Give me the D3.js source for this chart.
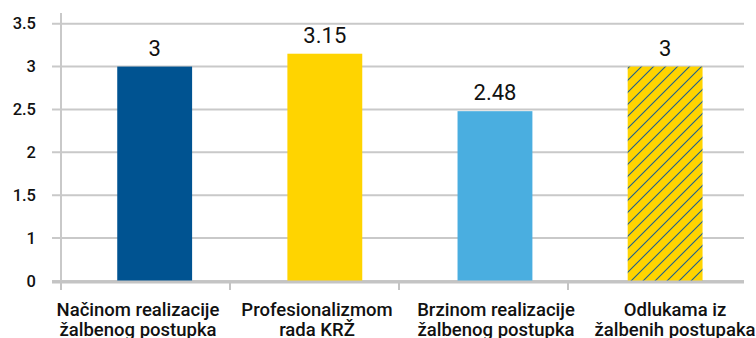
<!DOCTYPE html>
<html>
<head>
<meta charset="utf-8">
<script src="https://cdn.jsdelivr.net/npm/d3@7"></script>
<style>
  html, body { margin: 0; padding: 0; background: #fff; }
  svg { display: block; font-family: Roboto, "Noto Sans", sans-serif; }
</style>
</head>
<body>
<svg id="chart" width="756" height="338"></svg>
<script>
// ---- data ----
const categories = [
  ["Načinom realizacije", "žalbenog postupka"],
  ["Profesionalizmom", "rada KRŽ"],
  ["Brzinom realizacije", "žalbenog postupka"],
  ["Odlukama iz", "žalbenih postupaka"]
];
const categoryKeys = ["c1", "c2", "c3", "c4"];
const values = [3, 3.15, 2.48, 3];
const valueLabels = ["3", "3.15", "2.48", "3"];
const barColors = ["#005391", "#FFD400", "#4AAEE0", "hatch"];
const yTickValues = [0.5, 1, 1.5, 2, 2.5, 3, 3.5];
const yTickLabels = ["0", "1", "1.5", "2", "2.5", "3", "3.5"];

// ---- layout ----
const svg = d3.select("#chart");
const plotLeft = 60, plotRight = 744, baseY = 281, topY = 23.7;

const y = d3.scaleLinear().domain([0.5, 3.5]).range([baseY, topY]);
const x = d3.scaleBand().domain(categoryKeys).range([plotLeft, plotRight])
  .paddingInner(0.56).paddingOuter(0.29).align(0.58);
const xTicks = d3.scaleBand().domain(categoryKeys).range([plotLeft, 736]);
const xLabels = d3.scaleBand().domain(categoryKeys).range([48.5, 764.5]);

// hatch pattern
const defs = svg.append("defs");
const pat = defs.append("pattern").attr("id", "hatch")
  .attr("patternUnits", "userSpaceOnUse").attr("width", 12).attr("height", 12);
pat.append("rect").attr("width", 12).attr("height", 12).attr("fill", "#FFD400");
pat.append("path").attr("d", "M-3,3 L3,-3 M0,12 L12,0 M9,15 L15,9")
  .attr("stroke", "#1F5F8B").attr("stroke-width", 1.1);

// gridlines
svg.append("g").selectAll("line").data(yTickValues).join("line")
  .attr("x1", 52).attr("x2", plotRight)
  .attr("y1", d => y(d)).attr("y2", d => y(d))
  .attr("stroke", "#c9c9c9").attr("stroke-width", 2);

// y axis
const yAxis = d3.axisLeft(y).tickValues(yTickValues)
  .tickFormat((d, i) => yTickLabels[i]).tickSize(0).tickPadding(24);
const gy = svg.append("g").attr("transform", `translate(${plotLeft},0)`).call(yAxis);
gy.select(".domain").remove();
gy.selectAll("text").attr("font-size", 16.5).attr("font-weight", 500)
  .attr("fill", "#111").attr("font-family", "Roboto, sans-serif");
svg.append("line").attr("x1", 61).attr("x2", 61).attr("y1", 13).attr("y2", 290)
  .attr("stroke", "#c9c9c9").attr("stroke-width", 2);

// bars
svg.append("g").selectAll("rect").data(values).join("rect")
  .attr("x", (d, i) => x(categoryKeys[i]))
  .attr("width", x.bandwidth())
  .attr("y", d => y(d))
  .attr("height", d => baseY - y(d))
  .attr("fill", (d, i) => barColors[i] === "hatch" ? "url(#hatch)" : barColors[i]);

// x axis line and ticks
svg.append("line").attr("x1", 52).attr("x2", plotRight).attr("y1", baseY + 1).attr("y2", baseY + 1)
  .attr("stroke", "#c4c4c4").attr("stroke-width", 3);
svg.append("g").selectAll("line").data(categoryKeys).join("line")
  .attr("x1", d => xTicks(d) + 1).attr("x2", d => xTicks(d) + 1)
  .attr("y1", baseY).attr("y2", 290)
  .attr("stroke", "#c4c4c4").attr("stroke-width", 2);

// value labels
svg.append("g").selectAll("text").data(values).join("text")
  .attr("x", (d, i) => x(categoryKeys[i]) + x.bandwidth() / 2)
  .attr("y", d => y(d) - 11)
  .attr("text-anchor", "middle")
  .attr("font-size", 22).attr("fill", "#111")
  .text((d, i) => valueLabels[i]);

// category labels
const cl = svg.append("g").selectAll("text").data(categories).join("text")
  .attr("text-anchor", "middle")
  .attr("font-size", 18.5).attr("font-weight", 500).attr("fill", "#111")
  .attr("x", (d, i) => xLabels(categoryKeys[i]) + xLabels.bandwidth() / 2);
cl.selectAll("tspan").data(d => d).join("tspan")
  .attr("x", function () { return d3.select(this.parentNode).attr("x"); })
  .attr("y", (d, j) => 316 + j * 19.5)
  .text(d => d);
</script>
</body>
</html>
